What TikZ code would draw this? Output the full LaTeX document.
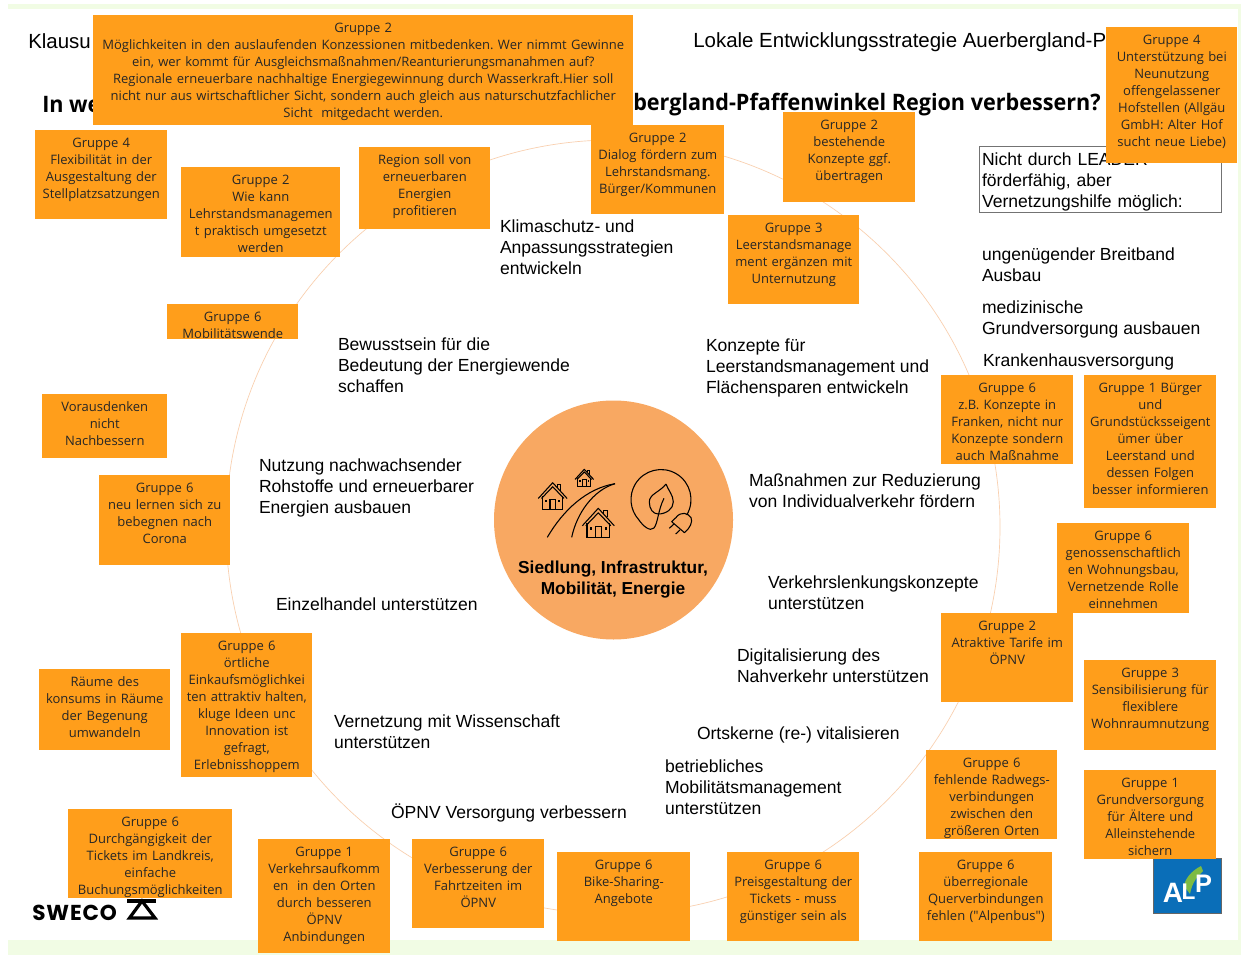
\documentclass[tikz,border=0pt]{standalone}
\usepackage{fontspec}
\setmainfont{Open Sans}
\newfontfamily\quotefont{Open Sans}
\newfontfamily\questionfont[FakeStretch=0.953]{Open Sans}
\newfontfamily\statefont{Liberation Sans}
\newfontfamily\logofont[LetterSpace=4]{Poppins}
\definecolor{noteorange}{HTML}{FF9E1B}
\definecolor{hubfill}{HTML}{F8A862}
\definecolor{ringline}{HTML}{F9CFAE}
\definecolor{framegreen}{HTML}{F1FCE4}
\definecolor{alpblue}{HTML}{0A6EB8}
\definecolor{alpgreen}{HTML}{7DBB42}
\frenchspacing
\tikzset{
    pics/house/.style = {code = {
        \draw[line join=round] (-16,17.5) -- (0,0) -- (16,17.5);
        \draw[line join=round] (-12.5,17.5) -- (0,4.5) -- (12.5,17.5);
        \draw (-11.3,15) -- (-11.3,29.4) -- (11.3,29.4) -- (11.3,15);
        \draw (-3,29.4) -- (-3,18.3) -- (3,18.3) -- (3,29.4);
        \draw (5.5,5.5) -- (5.5,2) -- (9,2) -- (9,9);
        \fill (-8.5,19) rectangle (-6.2,21.3);
        \fill (6.2,19) rectangle (8.5,21.3);
    }},
}
\begin{document}
\begin{tikzpicture}[
        x = 0.75pt, y = -0.75pt,
        note/.style 2 args = {anchor = north west, fill = noteorange, text = black!85,
            align = center, inner xsep = 0pt, inner ysep = 2.5pt,
            font = \fontsize{9.75}{12.75}\selectfont,
            text width = #1*0.75pt, text height = 10.35pt,
            text depth = #2*0.75pt - 15.35pt},
        statement/.style = {anchor = west, align = left, inner sep = 0pt, xshift = -0.2pt,
            font = \statefont\fontsize{13.15}{15.75}\selectfont},
        heading/.style = {anchor = west, inner sep = 0pt,
            font = \statefont\fontsize{15.35}{18}\selectfont},
        question/.style = {anchor = west, inner sep = 0pt,
            font = \questionfont\bfseries\fontsize{17}{20}\selectfont},
        alpletter/.style = {inner sep = 0pt, text = white},
        icon/.style = {line width = 0.8pt, black},
        ]
    % frame
    \fill[framegreen] (8,4) rectangle (1241,955);
    \fill[white] (0,9) rectangle (1238,940);
    \useasboundingbox (0,0) rectangle (1241,955);

    % ring and logos
    \node[circle, draw = ringline, line width = 0.5pt, minimum size = 580.5pt] (ring) at (613,527) {};
    \node[anchor = west, inner sep = 0pt, font = \logofont\bfseries\fontsize{16.2}{17}\selectfont] (sweco) at (32,912.5) {SWECO};
    \draw[line width = 2.4pt, line join = miter] (129.5,918) -- (155,918) -- (142,901) -- cycle;
    \draw[line width = 2.4pt] (127,901) -- (156,901);
    \node[anchor = north west, fill = alpblue, draw = black!60, line width = 0.4pt, minimum width = 51pt, minimum height = 41.5pt, inner sep = 0pt] (alp) at (1152.5,857.5) {};
    \fill[alpgreen] (1201,866) .. controls (1191,871) and (1185,879) .. (1184,886) -- (1190,894) .. controls (1192,882) and (1198,876) .. (1203,871) -- cycle;
    \node[alpletter, font = \statefont\bfseries\fontsize{21}{23}\selectfont] (alpa) at (1173,893) {A};
    \node[alpletter, font = \statefont\bfseries\fontsize{17}{19}\selectfont] (alpl) at (1188.5,892) {L};
    \node[alpletter, font = \statefont\bfseries\fontsize{19}{21}\selectfont] (alpp) at (1203.5,884) {P};

    % titles
    \node[heading] (klausur) at (28,41) {Klausu};
    \node[heading] (lokal) at (693,42) {Lokale Entwicklungsstrategie Auerbergland-P};
    \node[question] (frageA) at (42,105) {In we};
    \node[question] (frageB) at (633,105) {bergland-Pfaffenwinkel Region verbessern?};

    % statements
    \node[statement] (klima) at (500,247) {Klimaschutz- und\\Anpassungsstrategien\\entwickeln};
    \node[statement] (bewusst) at (338,365) {Bewusstsein für die\\Bedeutung der Energiewende\\schaffen};
    \node[statement] (leerstand) at (706,368) {Konzepte für\\Leerstandsmanagement und\\Flächensparen entwickeln};
    \node[statement] (rohstoffe) at (259,488) {Nutzung nachwachsender\\Rohstoffe und erneuerbarer\\Energien ausbauen};
    \node[statement] (verkehr) at (749,490.5) {Maßnahmen zur Reduzierung\\von Individualverkehr fördern};
    \node[statement] (lenkung) at (768,592.5) {Verkehrslenkungskonzepte\\unterstützen};
    \node[statement] (handel) at (276,604) {Einzelhandel unterstützen};
    \node[statement] (digital) at (737,665.5) {Digitalisierung des\\Nahverkehr unterstützen};
    \node[statement] (ortskerne) at (697,735) {Ortskerne (re-) vitalisieren};
    \node[statement] (wissen) at (334,731.5) {Vernetzung mit Wissenschaft\\unterstützen};
    \node[statement] (betrieb) at (665,787) {betriebliches\\Mobilitätsmanagement\\unterstützen};
    \node[statement] (oepnv) at (391,813) {ÖPNV Versorgung verbessern};
    \node[statement] (breitband) at (982,264.5) {ungenügender Breitband\\Ausbau};
    \node[statement] (medizin) at (982,319.5) {medizinische\\Grundversorgung ausbauen};
    \node[statement] (kranken) at (983,362) {Krankenhausversorgung};
    \node[statement, anchor = north west, draw = black!55, line width = 0.5pt, inner xsep = 2.25pt, inner ysep = 4.5pt, text width = 177pt, text height = 9.75pt, text depth = 30.75pt, xshift = 0pt] (leader) at (979,146) {Nicht durch LEADER\\förderfähig, aber\\Vernetzungshilfe möglich:};

    % centre
    \node[circle, fill = hubfill, minimum size = 179.25pt, inner sep = 0pt] (hub) at (613.5,520) {};
    \node[align = center, inner sep = 0pt, font = \statefont\bfseries\fontsize{13}{15.75}\selectfont] (hubtext) at (613,579.5) {Siedlung, Infrastruktur,\\Mobilität, Energie};
    \pic[icon] at (598.3,508.3) {house};
    \pic[icon, scale = 0.9] at (552.7,482.7) {house};
    \pic[icon, scale = 0.58] at (584.3,469.3) {house};
    \draw[icon] (547.3,537.3) .. controls (563.3,510) and (586.7,488.3) .. (615,483.7);
    \draw[icon] (571.7,537.3) .. controls (576.7,513.3) and (593.3,490) .. (615,483.7);
    \draw[icon] (686.7,515) arc (31:-222:30) .. controls (643,526) and (650,532) .. (654,528) .. controls (658,523) and (658,510) .. (664,498.3);
    \draw[icon, line join = round] (666,484) .. controls (660,492) and (649.3,494) .. (649.3,502) .. controls (649.3,509) and (653,514) .. (658.3,514) .. controls (666,514) and (673.3,509) .. (673.3,502) .. controls (673.3,495) and (668,490) .. (666,484);
    \draw[icon, line join = round] (684.5,532.7) -- (671.7,521.7) -- (676,517.5) .. controls (681,511) and (688,513) .. (691,517.5) .. controls (693,522) and (690,528) .. (684.5,532.7);
    \draw[icon] (674,524) -- (669.3,528.3);
    \draw[icon] (680,530) -- (675.7,534);

    % notes
    \node[note = {540}{110}] (konzession) at (93,15) {Gruppe 2\\Möglichkeiten in den auslaufenden Konzessionen mitbedenken. Wer nimmt Gewinne\\ein, wer kommt für Ausgleichsmaßnahmen/Reanturierungsmanahmen auf?\\Regionale erneuerbare nachhaltige Energiegewinnung durch Wasserkraft.Hier soll\\nicht nur aus wirtschaftlicher Sicht, sondern auch gleich aus naturschutzfachlicher\\Sicht\ \ mitgedacht werden.};
    \node[note = {132}{89}] (stellplatz) at (35,130) {Gruppe 4\\Flexibilität in der\\Ausgestaltung der\\Stellplatzsatzungen};
    \node[note = {159}{90}] (wiekann) at (181,167) {Gruppe 2\\Wie kann\\Lehrstandsmanagemen\\t praktisch umgesetzt\\werden};
    \node[note = {131}{82}] (profit) at (359,147) {Region soll von\\erneuerbaren\\Energien\\profitieren};
    \node[note = {133}{89}] (dialog) at (591,125) {Gruppe 2\\Dialog fördern zum\\Lehrstandsmang.\\Bürger/Kommunen};
    \node[note = {132}{90}] (bestehend) at (783,112) {Gruppe 2\\bestehende\\Konzepte ggf.\\übertragen};
    \node[note = {131}{89}] (unternutzung) at (728,215) {Gruppe 3\\Leerstandsmanage\\ment ergänzen mit\\Unternutzung};
    \node[note = {131}{136}] (hofstellen) at (1106,27) {Gruppe 4\\Unterstützung bei\\Neunutzung\\offengelassener\\Hofstellen (Allgäu\\GmbH: Alter Hof\\sucht neue Liebe)};
    \node[note = {131}{35}] (wende) at (167,304) {Gruppe 6\\Mobilitätswende};
    \node[note = {125}{64}] (voraus) at (42,394) {Vorausdenken\\nicht\\Nachbessern};
    \node[note = {131}{90}] (corona) at (99,475) {Gruppe 6\\neu lernen sich zu\\bebegnen nach\\Corona};
    \node[note = {131}{144}] (einkauf) at (181,633) {Gruppe 6\\örtliche\\Einkaufsmöglichkei\\ten attraktiv halten,\\kluge Ideen unc\\Innovation ist\\gefragt,\\Erlebnisshoppem};
    \node[note = {131}{81}] (konsum) at (39,669) {Räume des\\konsums in Räume\\der Begenung\\umwandeln};
    \node[note = {164}{89}] (tickets) at (68,809) {Gruppe 6\\Durchgängigkeit der\\Tickets im Landkreis,\\einfache\\Buchungsmöglichkeiten};
    \node[note = {132}{114}] (aufkommen) at (258,839) {Gruppe 1\\Verkehrsaufkomm\\en\ \ in den Orten\\durch besseren\\ÖPNV\\Anbindungen};
    \node[note = {132}{89}] (fahrzeit) at (412,839) {Gruppe 6\\Verbesserung der\\Fahrtzeiten im\\ÖPNV};
    \node[note = {133}{89}] (bike) at (557,852) {Gruppe 6\\Bike-Sharing-\\Angebote};
    \node[note = {132}{89}] (preis) at (727,852) {Gruppe 6\\Preisgestaltung der\\Tickets - muss\\günstiger sein als};
    \node[note = {133}{89}] (alpenbus) at (919,852) {Gruppe 6\\überregionale\\Querverbindungen\\fehlen ({\quotefont"}Alpenbus{\quotefont"})};
    \node[note = {132}{89}] (aeltere) at (1084,770) {Gruppe 1\\Grundversorgung\\für Ältere und\\Alleinstehende\\sichern};
    \node[note = {131}{89}] (radweg) at (926,750) {Gruppe 6\\fehlende Radwegs-\\verbindungen\\zwischen den\\größeren Orten};
    \node[note = {132}{90}] (wohnraum) at (1084,660) {Gruppe 3\\Sensibilisierung für\\flexiblere\\Wohnraumnutzung};
    \node[note = {132}{89}] (tarife) at (941,613) {Gruppe 2\\Atraktive Tarife im\\ÖPNV};
    \node[note = {132}{90}] (genossen) at (1057,523) {Gruppe 6\\genossenschaftlich\\en Wohnungsbau,\\Vernetzende Rolle\\einnehmen};
    \node[note = {132}{133}] (buerger) at (1084,375) {Gruppe 1 Bürger\\und\\Grundstücksseigent\\ümer über\\Leerstand und\\dessen Folgen\\besser informieren};
    \node[note = {132}{89}] (massnahme) at (941,375) {Gruppe 6\\z.B. Konzepte in\\Franken, nicht nur\\Konzepte sondern\\auch Maßnahme};
\end{tikzpicture}
\end{document}
